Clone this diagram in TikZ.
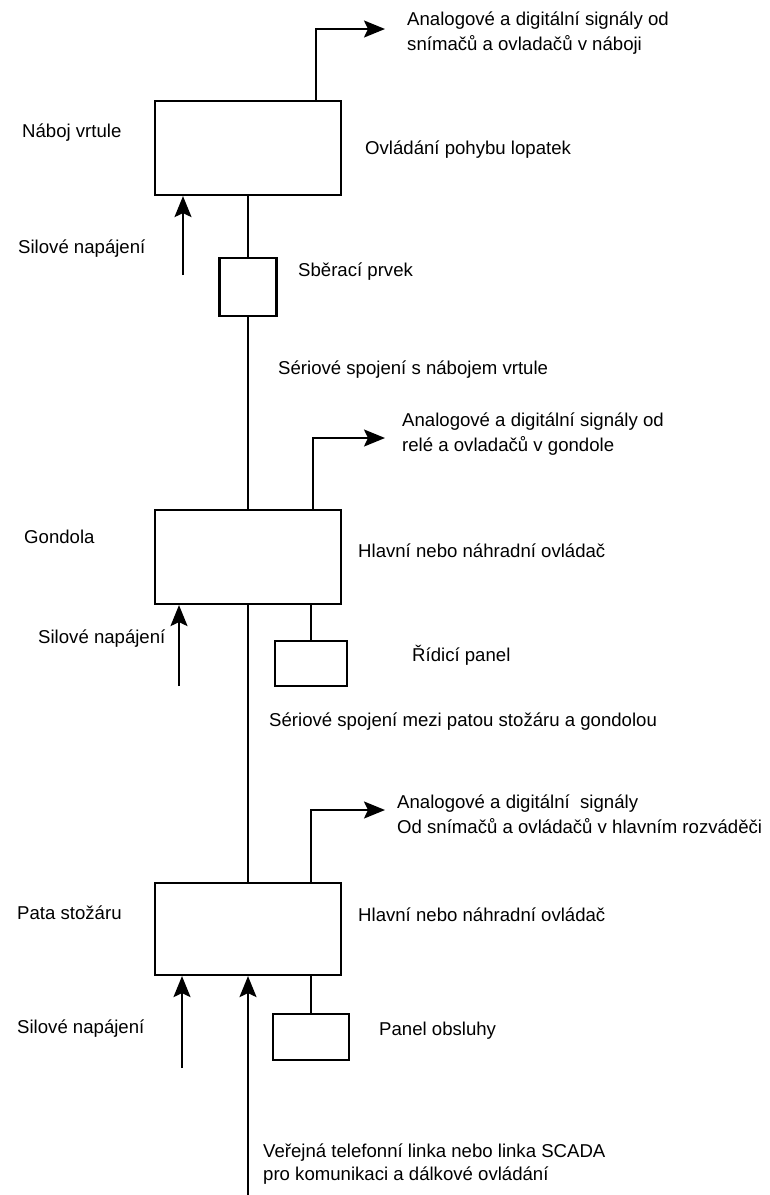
\documentclass[tikz,border=0pt]{standalone}
\usepackage{fontspec}
\setmainfont{Liberation Sans}
\usetikzlibrary{arrows.meta}
\tikzset{
  unit/.style={draw, line width=2.2pt, minimum width=186pt, minimum height=94pt, inner sep=0pt},
  small/.style={draw, line width=2.2pt, inner sep=0pt},
  txt/.style={anchor=base west, inner sep=0pt, font=\fontsize{18.6}{25}\selectfont, align=left},
  link/.style={line width=2pt},
  tip/.style={line width=2pt, -{Stealth[length=21pt,width=17pt,inset=4pt]}}
}

\begin{document}
\begin{tikzpicture}[x=1pt,y=-1pt]
			\useasboundingbox (0,0) rectangle (769,1195);
			%%%%% START %%%%%
			\node[unit] (hub) at (248,148) {};
			\node[small, minimum width=57pt, minimum height=58pt] (slip) at (248,287) {};
			\node[unit] (gondola) at (248,557) {};
			\node[small, minimum width=72pt, minimum height=45pt] (ctrlpanel) at (311,663.5) {};
			\node[unit, minimum height=92pt] (tower) at (248,929) {};
			\node[small, minimum width=76pt, minimum height=46pt] (oppanel) at (311,1037) {};
			
			\coordinate (hubout) at (385,29);
			\coordinate (gondout) at (385,438);
			\coordinate (towerout) at (385,810);
			\coordinate (hubpow) at (183,275);
			\coordinate (gondpow) at (179,686);
			\coordinate (towerpow) at (182,1068);
			\coordinate (scada) at (248,1195);
			
			\draw[link] (hub.south) -- (slip.north);
			\draw[link] (slip.south) -- (gondola.north);
			\draw[link] (gondola.south) -- (tower.north);
			\draw[link] (gondola.south -| ctrlpanel.north) -- (ctrlpanel.north);
			\draw[link] (tower.south -| oppanel.north) -- (oppanel.north);
			
			\draw[tip] ([xshift=68pt]hub.north) |- (hubout);
			\draw[tip] ([xshift=65pt]gondola.north) |- (gondout);
			\draw[tip] ([xshift=63pt]tower.north) |- (towerout);
			
			\draw[tip] (hubpow) -- (hubpow |- hub.south);
			\draw[tip] (gondpow) -- (gondpow |- gondola.south);
			\draw[tip] (towerpow) -- (towerpow |- tower.south);
			\draw[tip] (scada) -- (tower.south);
			
			\node[txt] (hubsig) at (407,50) {Analogové a digitální signály od\\snímačů a ovladačů v náboji};
			\node[txt] (hubname) at (22,137) {Náboj vrtule};
			\node[txt] (hubtask) at (365,154) {Ovládání pohybu lopatek};
			\node[txt] (hubfeed) at (18,253) {Silové napájení};
			\node[txt] (sliplbl) at (298,276) {Sběrací prvek};
			\node[txt] (serialtop) at (278,374) {Sériové spojení s nábojem vrtule};
			
			\node[txt] (gondsig) at (402,451) {Analogové a digitální signály od\\relé a ovladačů v gondole};
			\node[txt] (gondname) at (24,543) {Gondola};
			\node[txt] (gondtask) at (358,557) {Hlavní nebo náhradní ovládač};
			\node[txt] (gondfeed) at (38,643) {Silové napájení};
			\node[txt] (ctrllbl) at (412,661) {Řídicí panel};
			\node[txt] (serialmid) at (269,726) {Sériové spojení mezi patou stožáru a gondolou};
			
			\node[txt] (towersig) at (397,833) {Analogové a digitální~ signály\\Od snímačů a ovládačů v hlavním rozváděči};
			\node[txt] (towername) at (17,919) {Pata stožáru};
			\node[txt] (towertask) at (358,921) {Hlavní nebo náhradní ovládač};
			\node[txt] (towerfeed) at (17,1033) {Silové napájení};
			\node[txt] (oplbl) at (379,1035) {Panel obsluhy};
			\node[txt, font=\fontsize{18.6}{23}\selectfont] (scadalbl) at (263,1180) {Veřejná telefonní linka nebo linka SCADA\\pro komunikaci a dálkové ovládání};
			%%%%% END %%%%%
\end{tikzpicture}
\end{document}
